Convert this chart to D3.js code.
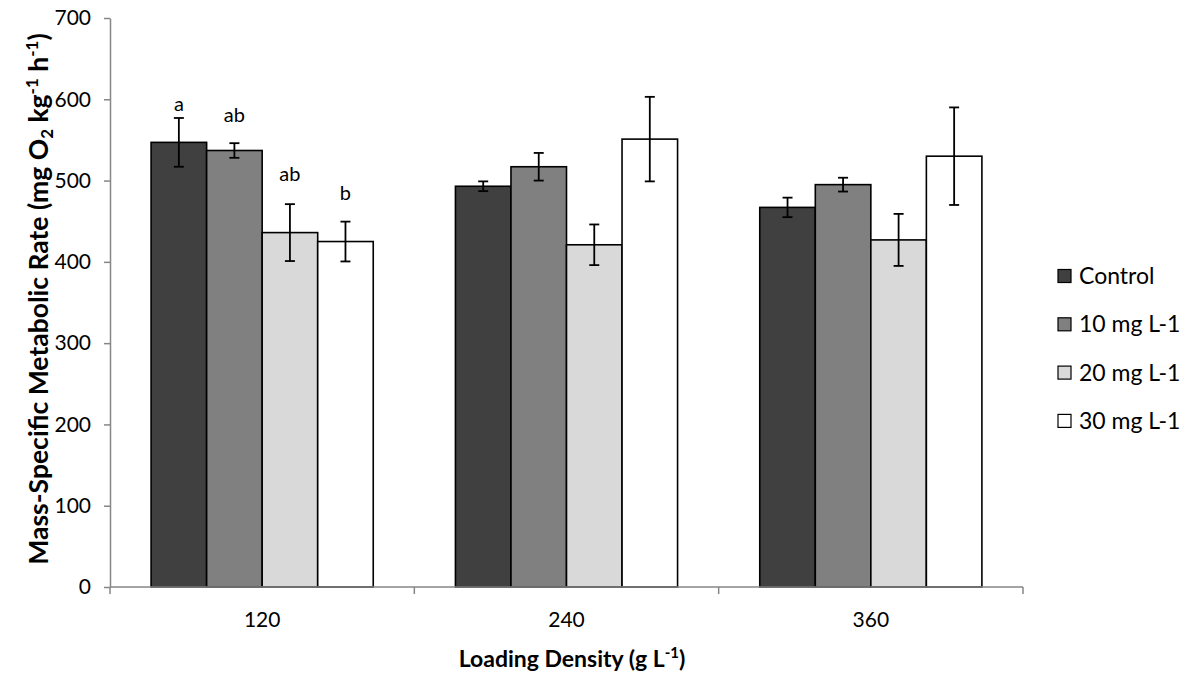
<!DOCTYPE html>
<html>
<head>
<meta charset="utf-8">
<script src="https://cdn.jsdelivr.net/npm/d3@7"></script>
<style>
  html, body { margin: 0; padding: 0; background: #fff; }
  svg { display: block; font-family: Lato, "Open Sans", sans-serif; }
</style>
</head>
<body>
<svg id="chart" width="1195" height="679"></svg>
<script>
// Loading densities (g L-1) on the x axis
const categories = ["120", "240", "360"];
// Treatment series
const series = ["Control", "10 mg L-1", "20 mg L-1", "30 mg L-1"];
const seriesColors = ["#404040", "#808080", "#d9d9d9", "#ffffff"];

// Mean mass-specific metabolic rate per density, one array per treatment
const controlValues = [547, 493, 467];
const mg10Values = [537, 517, 495];
const mg20Values = [436, 421, 427];
const mg30Values = [425, 551, 530];

// Error bar half-widths (same layout)
const controlErr = [30, 6, 12];
const mg10Err = [9, 17, 8.5];
const mg20Err = [35, 25, 32];
const mg30Err = [24.5, 52, 60];

// Significance letters for the 120 g L-1 group and the value height they sit at
const letters = ["a", "ab", "ab", "b"];
const letterAt = [586, 572, 500, 476];

const yTicks = [0, 100, 200, 300, 400, 500, 600, 700];

const values = [controlValues, mg10Values, mg20Values, mg30Values];
const errors = [controlErr, mg10Err, mg20Err, mg30Err];

const rows = [];
categories.forEach((c, ci) => {
  series.forEach((s, si) => {
    rows.push({ cat: c, ser: s, si, value: values[si][ci], err: errors[si][ci] });
  });
});

const svg = d3.select("#chart");
const axisColor = "#868686";

const x0 = d3.scaleBand().domain(categories).range([110, 1023]).paddingInner(0).paddingOuter(0);
const x1 = d3.scaleBand().domain(series).range([0, x0.bandwidth()]).paddingInner(0).paddingOuter(0.74);
const y = d3.scaleLinear().domain([0, 700]).range([587, 18]);

// Y axis
const yAxis = svg.append("g")
  .attr("transform", "translate(110,0)")
  .call(d3.axisLeft(y).tickValues(yTicks).tickSize(6).tickPadding(13).tickSizeOuter(0));
yAxis.select(".domain").attr("stroke", axisColor).attr("stroke-width", 1.5);
yAxis.selectAll(".tick line").attr("stroke", axisColor).attr("stroke-width", 1.5);
yAxis.selectAll(".tick text").attr("fill", "#000").style("font-size", "21px").style("font-family", "Lato, sans-serif");

// Bars
const bars = svg.append("g");
bars.selectAll("rect").data(rows).join("rect")
  .attr("x", d => x0(d.cat) + x1(d.ser))
  .attr("y", d => y(d.value))
  .attr("width", x1.bandwidth())
  .attr("height", d => y(0) - y(d.value))
  .attr("fill", d => seriesColors[d.si])
  .attr("stroke", "#000")
  .attr("stroke-width", 1.6);

// X axis line with ticks at category boundaries
const xAxisG = svg.append("g");
xAxisG.append("line")
  .attr("x1", x0.range()[0]).attr("x2", x0.range()[1])
  .attr("y1", y(0)).attr("y2", y(0))
  .attr("stroke", axisColor).attr("stroke-width", 1.5);
const bounds = categories.map(c => x0(c)).concat([x0.range()[1]]);
xAxisG.selectAll("line.tk").data(bounds).join("line")
  .attr("class", "tk")
  .attr("x1", d => d).attr("x2", d => d)
  .attr("y1", y(0)).attr("y2", y(0) + 7)
  .attr("stroke", axisColor).attr("stroke-width", 1.5);
xAxisG.selectAll("text").data(categories).join("text")
  .attr("x", d => x0(d) + x0.bandwidth() / 2)
  .attr("y", y(0) + 40)
  .attr("text-anchor", "middle")
  .style("font-size", "21px")
  .text(d => d);

// Error bars
const eb = svg.append("g").attr("stroke", "#000").attr("stroke-width", 1.8);
rows.forEach(d => {
  const cx = x0(d.cat) + x1(d.ser) + x1.bandwidth() / 2;
  const yt = y(d.value + d.err), yb = y(d.value - d.err);
  eb.append("line").attr("x1", cx).attr("x2", cx).attr("y1", yt).attr("y2", yb);
  eb.append("line").attr("x1", cx - 5).attr("x2", cx + 5).attr("y1", yt).attr("y2", yt);
  eb.append("line").attr("x1", cx - 5).attr("x2", cx + 5).attr("y1", yb).attr("y2", yb);
});

// Significance letters
svg.append("g").selectAll("text").data(letters).join("text")
  .attr("x", (d, i) => x0(categories[0]) + x1(series[i]) + x1.bandwidth() / 2)
  .attr("y", (d, i) => y(letterAt[i]))
  .attr("text-anchor", "middle")
  .style("font-size", "20px")
  .text(d => d);

// Y axis title
const yTitle = svg.append("text")
  .attr("transform", "translate(48,299) rotate(-90)")
  .attr("text-anchor", "middle")
  .style("font-size", "26.5px")
  .style("font-weight", "bold");
yTitle.append("tspan").text("Mass-Specific Metabolic Rate (mg O");
yTitle.append("tspan").attr("dy", 5).style("font-size", "17px").text("2");
yTitle.append("tspan").attr("dy", -5).text(" kg");
yTitle.append("tspan").attr("dy", -10).style("font-size", "17px").text("-1");
yTitle.append("tspan").attr("dy", 10).text(" h");
yTitle.append("tspan").attr("dy", -10).style("font-size", "17px").text("-1");
yTitle.append("tspan").attr("dy", 10).text(")");

// X axis title
const xTitle = svg.append("text")
  .attr("x", 572)
  .attr("y", 667)
  .attr("text-anchor", "middle")
  .style("font-size", "23px")
  .style("font-weight", "bold");
xTitle.append("tspan").text("Loading Density (g L");
xTitle.append("tspan").attr("dy", -9).style("font-size", "15px").text("-1");
xTitle.append("tspan").attr("dy", 9).text(")");

// Legend
const legend = svg.append("g").attr("transform", "translate(1058,276)");
const li = legend.selectAll("g").data(series).join("g")
  .attr("transform", (d, i) => `translate(0,${i * 48.3})`);
li.append("rect")
  .attr("x", 0).attr("y", -6.5).attr("width", 13).attr("height", 13)
  .attr("fill", (d, i) => seriesColors[i])
  .attr("stroke", "#000").attr("stroke-width", 1.2);
li.append("text")
  .attr("x", 21).attr("y", 0).attr("dy", "0.35em")
  .style("font-size", "23px")
  .text(d => d);
</script>
</body>
</html>
